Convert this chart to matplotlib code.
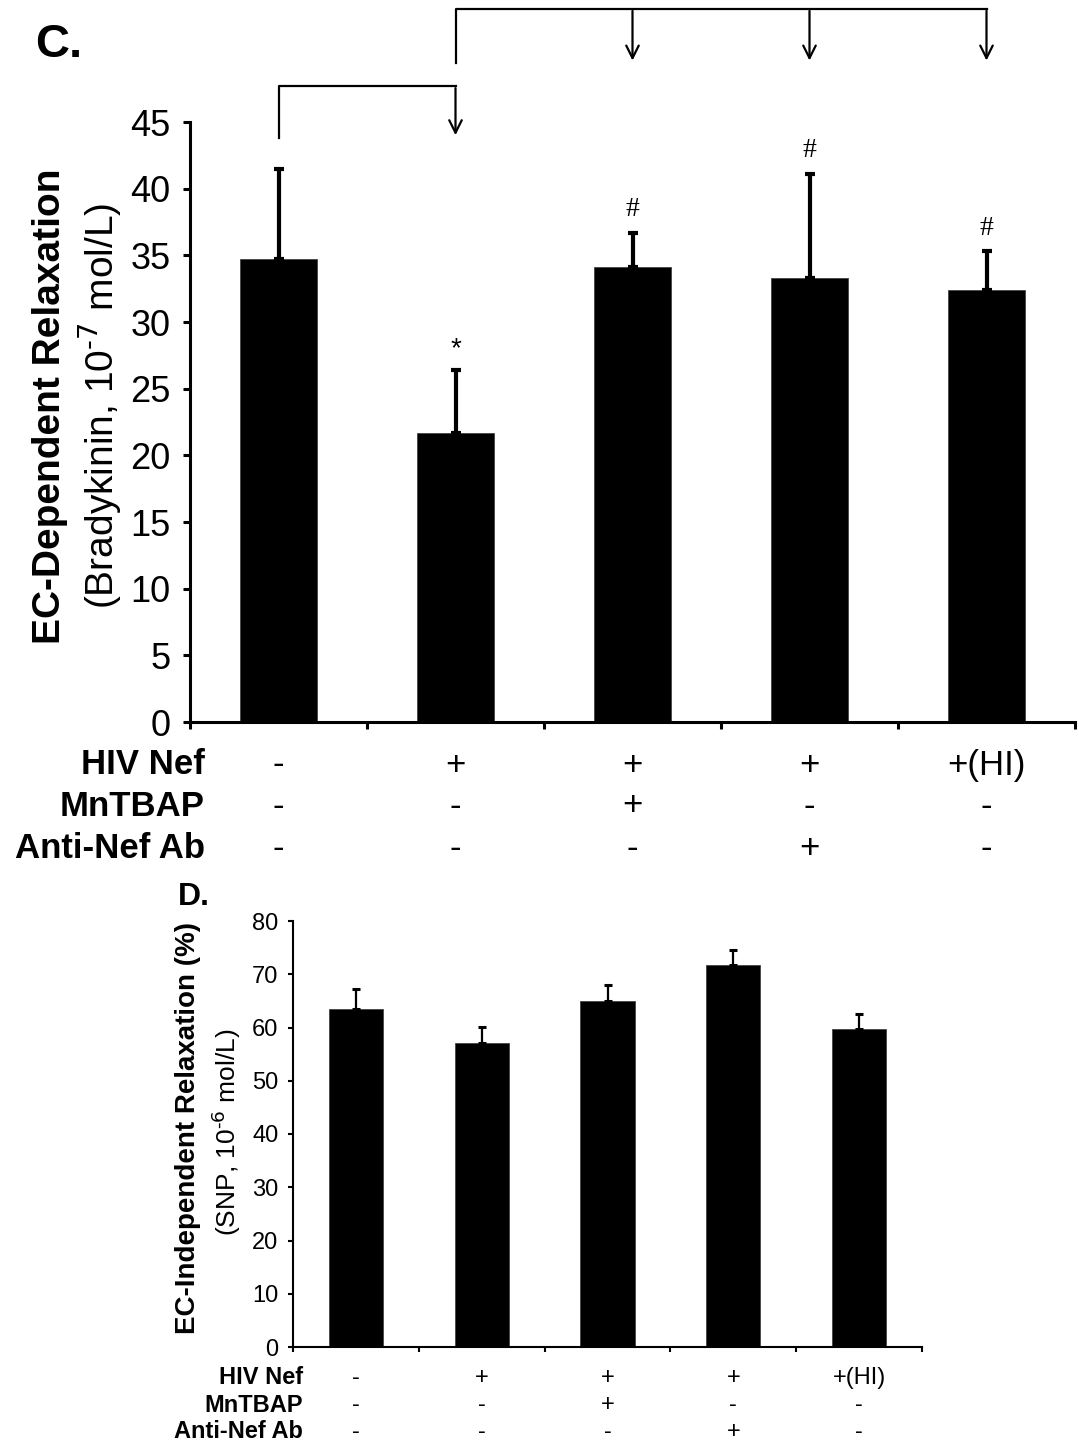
import matplotlib
matplotlib.use("Agg")
import matplotlib.pyplot as plt
import matplotlib.transforms as mtransforms
import numpy as np

plt.rcParams['font.family'] = ['Liberation Sans', 'DejaVu Sans']
plt.rcParams['mathtext.default'] = 'regular'

# panel C: EC-dependent relaxation (bradykinin)
c_means = [34.7, 21.7, 34.1, 33.3, 32.4]
c_err = [6.8, 4.7, 2.6, 7.8, 2.9]
c_marks = ['', '*', '#', '#', '#']

# panel D: EC-independent relaxation (SNP)
d_means = [63.5, 57.0, 64.9, 71.8, 59.7]
d_err = [3.8, 3.1, 3.0, 2.7, 2.9]

row_names = ['HIV Nef', 'MnTBAP', 'Anti-Nef Ab']
hiv_nef = ['-', '+', '+', '+', '+(HI)']
mntbap = ['-', '-', '+', '-', '-']
anti_nef = ['-', '-', '-', '+', '-']

W, H = 1079, 1453
fig = plt.figure(figsize=(W / 100, H / 100), dpi=100)


def fy(py):
    return 1 - py / H


def fx(px):
    return px / W


def draw_panel(ax, means, err, ymax, ystep, lw, tick_fs, tick_len, pad,
               elw, cap, capt):
    x = np.arange(len(means))
    ax.bar(x, means, width=0.43, color='black', edgecolor='#444444', linewidth=0.6, zorder=2)
    ax.errorbar(x, means, yerr=[np.zeros(len(err)), err], fmt='none', ecolor='black',
                elinewidth=elw, capsize=cap, capthick=capt, zorder=3)
    ax.set_xlim(-0.5, len(means) - 0.5)
    ax.set_ylim(0, ymax)
    ax.set_yticks(np.arange(0, ymax + 1, ystep))
    ax.set_xticks(np.arange(-0.5, len(means), 1.0))
    ax.set_xticklabels([])
    for s in ['top', 'right']:
        ax.spines[s].set_visible(False)
    for s in ['left', 'bottom']:
        ax.spines[s].set_linewidth(lw)
    ax.tick_params(axis='y', direction='out', length=tick_len, width=lw,
                   labelsize=tick_fs, pad=pad)
    ax.tick_params(axis='x', direction='out', length=tick_len, width=lw)
    return x


# ---------------- panel C ----------------
axC = fig.add_axes([fx(190), fy(722), fx(1075) - fx(190), fy(122) - fy(722)])
xc = draw_panel(axC, c_means, c_err, 45, 5, 2.2, 26, 5, 9, 3.0, 3.6, 3.0)
for xi, m, e, mk in zip(xc, c_means, c_err, c_marks):
    if mk == '*':
        axC.text(xi, m + e + 0.6, mk, ha='center', va='bottom', fontsize=20)
    elif mk:
        axC.text(xi, m + e + 0.8, mk, ha='center', va='bottom', fontsize=20,
                 family=['Liberation Serif', 'DejaVu Serif'])

# significance brackets above panel C
blw = 1.6
arrow = dict(arrowstyle='->,head_length=0.9,head_width=0.45', lw=blw, color='black')
axC.plot([0, 0, 1], [43.8, 47.7, 47.7], color='black', lw=blw, clip_on=False)
axC.annotate('', xy=(1, 43.8), xytext=(1, 47.75), arrowprops=arrow, annotation_clip=False)
axC.plot([1, 1, 4], [49.4, 53.5, 53.5], color='black', lw=blw, clip_on=False)
for xi in [2, 3, 4]:
    axC.annotate('', xy=(xi, 49.4), xytext=(xi, 53.55), arrowprops=arrow, annotation_clip=False)

fig.text(fx(35), fy(57), 'C.', fontsize=34, fontweight='bold', va='baseline', ha='left')
fig.text(fx(50), fy(406), 'EC-Dependent Relaxation', rotation=90, fontsize=28,
         fontweight='bold', ha='center', va='center')
fig.text(fx(100), fy(406), r'(Bradykinin, 10$^{\text{-7}}$ mol/L)', rotation=90, fontsize=28,
         ha='center', va='center')

trC = mtransforms.blended_transform_factory(axC.transData, fig.transFigure)
for row, vals, py in zip(row_names, [hiv_nef, mntbap, anti_nef], [765, 806, 848]):
    fig.text(fx(205), fy(py), row, fontsize=25, fontweight='bold', ha='right', va='center')
    for xi, v in zip(xc, vals):
        axC.text(xi, fy(py), v, transform=trC, fontsize=25, ha='center', va='center')

# ---------------- panel D ----------------
axD = fig.add_axes([fx(293), fy(1347), fx(922) - fx(293), fy(921) - fy(1347)])
xd = draw_panel(axD, d_means, d_err, 80, 10, 1.5, 17, 3.6, 7, 1.6, 2.8, 2.2)

fig.text(fx(178), fy(905), 'D.', fontsize=23, fontweight='bold', va='baseline', ha='left')
fig.text(fx(188), fy(1128), 'EC-Independent Relaxation (%)', rotation=90, fontsize=20,
         fontweight='bold', ha='center', va='center')
fig.text(fx(227), fy(1132), r'(SNP, 10$^{\text{-6}}$ mol/L)', rotation=90, fontsize=19,
         ha='center', va='center')

trD = mtransforms.blended_transform_factory(axD.transData, fig.transFigure)
for row, vals, py in zip(row_names, [hiv_nef, mntbap, anti_nef], [1378, 1405, 1432]):
    fig.text(fx(303), fy(py), row, fontsize=17, fontweight='bold', ha='right', va='center')
    for xi, v in zip(xd, vals):
        axD.text(xi, fy(py), v, transform=trD, fontsize=17, ha='center', va='center')

fig.savefig('out.png', dpi=100)
